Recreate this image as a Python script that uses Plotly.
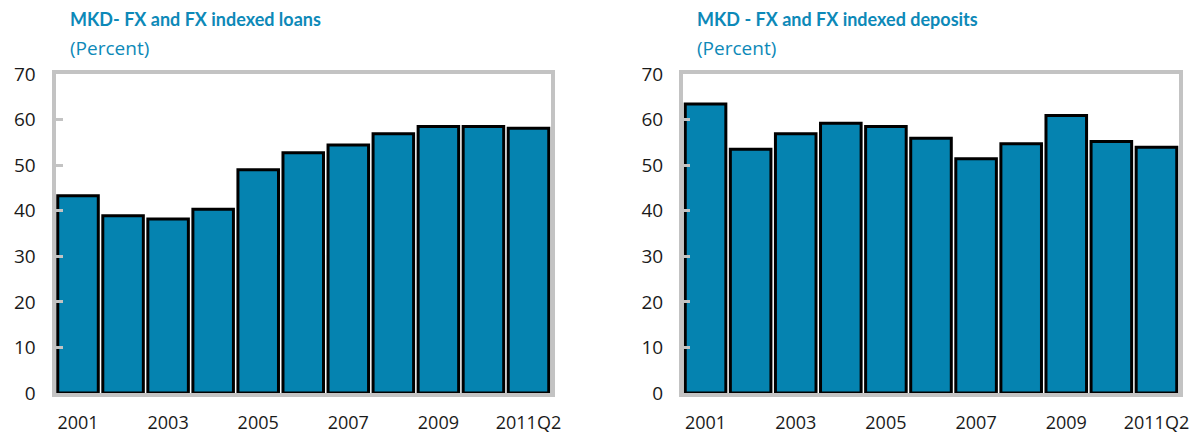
import plotly.graph_objects as go
from plotly.subplots import make_subplots

# 数据
years = ['2001', '2002', '2003', '2004', '2005', '2006', '2007', '2008', '2009', '2010', '2011Q2']
loans = [43.3, 38.9, 38.2, 40.3, 49.0, 52.7, 54.4, 56.9, 58.5, 58.5, 58.1]
deposits = [63.4, 53.5, 56.9, 59.2, 58.5, 55.9, 51.4, 54.7, 60.9, 55.2, 53.9]
tick_labels = ['2001', '2003', '2005', '2007', '2009', '2011Q2']
y_ticks = [0, 10, 20, 30, 40, 50, 60, 70]

# 页面有 8px 边距，所以图在 1194x428 内布局
W, H = 1194, 428
bar_fill = '#0583b0'
title_color = '#0d89b8'
title_font = 'Lato, sans-serif'
label_font = 'Open Sans, sans-serif'

fig = make_subplots(rows=1, cols=2)

fig.add_trace(go.Bar(x=years, y=loans, marker=dict(color=bar_fill, line=dict(color='black', width=3))), row=1, col=1)
fig.add_trace(go.Bar(x=years, y=deposits, marker=dict(color=bar_fill, line=dict(color='black', width=3))), row=1, col=2)

# 坐标轴
axis_common = dict(showline=True, mirror=True, linecolor='#c3c3c3', linewidth=4,
                   showgrid=False, zeroline=False, automargin=False)
x_dom = [[47.5 / W, 543 / W], [675 / W, 1171 / W]]
y_dom = [(H - 385) / H, (H - 66) / H]

for i in range(2):
    fig.update_xaxes(
        domain=x_dom[i], type='category', range=[-0.5, 10.5],
        tickmode='array', tickvals=tick_labels, ticktext=tick_labels,
        ticks='', ticklabelstandoff=10,
        tickfont=dict(size=18, color='#1a1a1a', family=label_font),
        row=1, col=i + 1, **axis_common
    )
    fig.update_yaxes(
        domain=y_dom, range=[0, 70], tickmode='array', tickvals=y_ticks,
        ticks='inside', ticklen=7, tickwidth=3, tickcolor='#c3c3c3', ticklabelstandoff=12,
        tickfont=dict(size=19, color='#1a1a1a', family=label_font),
        row=1, col=i + 1, **axis_common
    )

# 标题
titles = ['MKD- FX and FX indexed loans', 'MKD - FX and FX indexed deposits']
title_x = [60 / W, 687 / W]
for i in range(2):
    fig.add_annotation(text='<b>' + titles[i] + '</b>', xref='paper', yref='paper',
                       x=title_x[i], y=1 + 2 / H, xanchor='left', yanchor='top', showarrow=False,
                       font=dict(size=18, color=title_color, family=title_font))
    fig.add_annotation(text='(Percent)', xref='paper', yref='paper',
                       x=title_x[i], y=1 - 25 / H, xanchor='left', yanchor='top', showarrow=False,
                       font=dict(size=19, color=title_color, family=label_font))

fig.update_layout(
    width=W, height=H, margin=dict(l=0, r=0, t=0, b=0),
    plot_bgcolor='white', paper_bgcolor='white',
    showlegend=False, bargap=0.1,
    font=dict(family=label_font)
)

fig.write_html("out.html")
